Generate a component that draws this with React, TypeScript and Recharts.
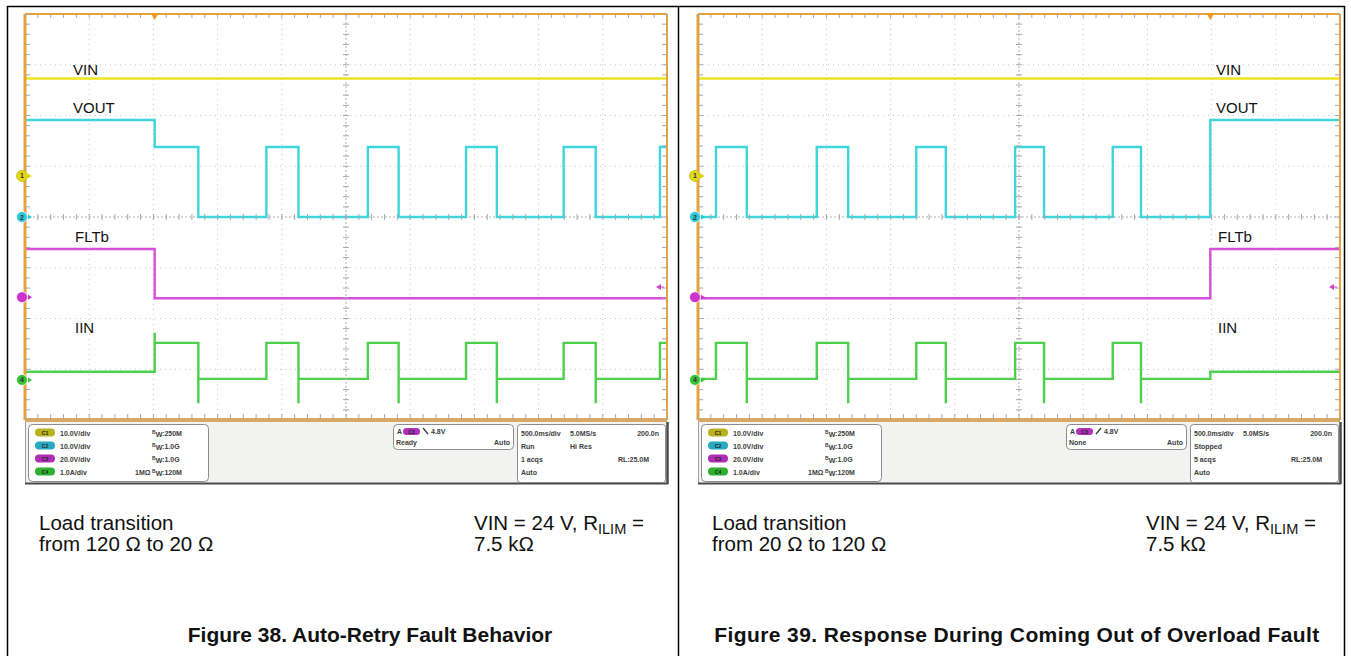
import React from 'react';
import { ComposedChart, Line, XAxis, YAxis, ReferenceLine, ReferenceDot, Scatter } from 'recharts';

const PLOT_W = 642;
const PLOT_H = 406;
const PAD = 12;
const PLOT_TOP = 14;

// scope graticule (divisions)
const gridX = [1, 2, 3, 4, 6, 7, 8, 9];
const gridY = [1, 2, 3, 5, 6, 7];
const minorX = Array.from({ length: 51 }, (_, i) => Math.round(i * 2) / 10);
const minorY = Array.from({ length: 41 }, (_, i) => Math.round(i * 2) / 10);

// channel ground reference levels (div from bottom)
const groundLevels = [4.81, 4.0, 2.42, 0.79];
const groundLabels = ['1', '2', '3', '4'];
const traceColors = ['#eee41e', '#3ed6dd', '#d64fd6', '#4dd14d'];
const markerColors = ['#e2d81a', '#2cc8d8', '#cc33cc', '#36c436'];
const trigLevel = 2.62;

// Figure 38 (load 120 ohm -> 20 ohm), time in divisions (500 ms/div)
const f38VinT = [0, 10];
const f38VinV = [6.73, 6.73];
const f38VoutT = [0, 2.02, 2.7, 3.76, 4.26, 5.34, 5.82, 6.87, 7.35, 8.39, 8.89, 9.89, 10];
const f38VoutV = [5.91, 5.38, 4.0, 5.38, 4.0, 5.38, 4.0, 5.38, 4.0, 5.38, 4.0, 5.38, 5.38];
const f38FltT = [0, 2.02, 10];
const f38FltV = [3.37, 2.4, 2.4];
const f38IinT = [0, 2.02, 2.02, 2.7, 2.7, 3.76, 4.26, 4.26, 5.34, 5.82, 5.82, 6.87, 7.35, 7.35, 8.39, 8.89, 8.89, 9.89, 10];
const f38IinV = [0.95, 1.72, 1.52, 0.33, 0.81, 1.52, 0.33, 0.81, 1.52, 0.33, 0.81, 1.52, 0.33, 0.81, 1.52, 0.33, 0.81, 1.52, 1.52];
const f38Trig = 2.02;

// Figure 39 (load 20 ohm -> 120 ohm)
const f39VinT = [0, 10];
const f39VinV = [6.73, 6.73];
const f39VoutT = [0, 0.28, 0.76, 1.85, 2.34, 3.4, 3.86, 4.94, 5.39, 6.46, 6.9, 7.98, 10];
const f39VoutV = [4.0, 5.38, 4.0, 5.38, 4.0, 5.38, 4.0, 5.38, 4.0, 5.38, 4.0, 5.91, 5.91];
const f39FltT = [0, 7.98, 10];
const f39FltV = [2.4, 3.37, 3.37];
const f39IinT = [0, 0.28, 0.76, 0.76, 1.85, 2.34, 2.34, 3.4, 3.86, 3.86, 4.94, 5.39, 5.39, 6.46, 6.9, 6.9, 7.98, 10];
const f39IinV = [0.81, 1.52, 0.33, 0.81, 1.52, 0.33, 0.81, 1.52, 0.33, 0.81, 1.52, 0.33, 0.81, 1.52, 0.33, 0.81, 0.95, 0.95];
const f39Trig = 7.98;

const traceNames = ['VIN', 'VOUT', 'FLTb', 'IIN'];

type Pt = { t: number; v: number };
const zip = (ts: number[], vs: number[]): Pt[] => ts.map((t, i) => ({ t, v: vs[i] }));

const centerH = minorX.map((t) => ({ t, v: 4 }));
const centerV = minorY.map((v) => ({ t: 5, v }));
const edgeBottom = minorX.map((t) => ({ t, v: 0 }));
const edgeTop = minorX.map((t) => ({ t, v: 8 }));
const edgeLeft = minorY.map((v) => ({ t: 0, v }));
const edgeRight = minorY.map((v) => ({ t: 10, v }));

const ORANGE = '#e6a23c';
const TICK = '#a8a8a8';

function Scope(props: { x0: number; series: Pt[][]; trig: number }) {
  const { x0, series, trig } = props;
  const grid = { stroke: '#c8c8c8', strokeDasharray: '1 4', strokeWidth: 1 };
  return (
    <div style={{ position: 'absolute', left: x0 - PAD, top: PLOT_TOP - PAD }}>
      <ComposedChart width={PLOT_W + 2 * PAD} height={PLOT_H + 2 * PAD} margin={{ top: PAD, right: PAD, bottom: PAD, left: PAD }}>
        <XAxis dataKey="t" type="number" domain={[0, 10]} hide allowDataOverflow />
        <YAxis dataKey="v" type="number" domain={[0, 8]} hide allowDataOverflow />
        {gridX.map((x) => (
          <ReferenceLine key={'gx' + x} x={x} {...grid} />
        ))}
        {gridY.map((y) => (
          <ReferenceLine key={'gy' + y} y={y} {...grid} />
        ))}
        <ReferenceLine x={5} stroke="#b0b0b0" strokeWidth={1} strokeDasharray="2 2" />
        <ReferenceLine y={4} stroke="#b0b0b0" strokeWidth={1} strokeDasharray="2 2" />
        <Scatter data={centerH} dataKey="v" isAnimationActive={false}
          shape={(p: any) => <line x1={p.cx} x2={p.cx} y1={p.cy - 3} y2={p.cy + 3} stroke={TICK} strokeWidth={1} />} />
        <Scatter data={centerV} dataKey="v" isAnimationActive={false}
          shape={(p: any) => <line x1={p.cx - 3} x2={p.cx + 3} y1={p.cy} y2={p.cy} stroke={TICK} strokeWidth={1} />} />
        <Scatter data={edgeBottom} dataKey="v" isAnimationActive={false}
          shape={(p: any) => <line x1={p.cx} x2={p.cx} y1={p.cy - 6} y2={p.cy} stroke={TICK} strokeWidth={1} />} />
        <Scatter data={edgeTop} dataKey="v" isAnimationActive={false}
          shape={(p: any) => <line x1={p.cx} x2={p.cx} y1={p.cy} y2={p.cy + 4} stroke={TICK} strokeWidth={1} />} />
        <Scatter data={edgeLeft} dataKey="v" isAnimationActive={false}
          shape={(p: any) => <line x1={p.cx} x2={p.cx + 5} y1={p.cy} y2={p.cy} stroke={TICK} strokeWidth={1} />} />
        <Scatter data={edgeRight} dataKey="v" isAnimationActive={false}
          shape={(p: any) => <line x1={p.cx - 5} x2={p.cx} y1={p.cy} y2={p.cy} stroke={TICK} strokeWidth={1} />} />
        {series.map((d, i) => (
          <Line key={'s' + i} data={d} dataKey="v" type="stepAfter" stroke={traceColors[i]} strokeWidth={2.4} dot={false} activeDot={false} isAnimationActive={false} />
        ))}
        <ReferenceLine x={0} stroke={ORANGE} strokeWidth={3} />
        <ReferenceLine x={10} stroke={ORANGE} strokeWidth={2} />
        <ReferenceLine y={8} stroke={ORANGE} strokeWidth={2} />
        <ReferenceLine y={0} stroke="#d9a862" strokeWidth={4} />
        {groundLevels.map((g, i) => (
          <ReferenceDot key={'gm' + i} x={0} y={g} r={6} ifOverflow="visible"
            shape={(p: any) => (
              <g>
                <circle cx={p.cx - 3} cy={p.cy} r={5.5} fill={markerColors[i]} stroke={i === 0 ? '#c9b800' : '#ffffff'} strokeWidth={0.8} />
                <text x={p.cx - 3} y={p.cy + 2.5} fontSize={7} fontFamily="Liberation Sans, Arial" fontWeight="bold" textAnchor="middle" fill="#333">{i === 2 ? '' : groundLabels[i]}</text>
                <polygon points={`${p.cx + 3},${p.cy - 2.5} ${p.cx + 7},${p.cy} ${p.cx + 3},${p.cy + 2.5}`} fill={markerColors[i]} />
              </g>
            )} />
        ))}
        <ReferenceDot x={trig} y={8} r={4} ifOverflow="visible"
          shape={(p: any) => <polygon points={`${p.cx - 4},${p.cy - 1} ${p.cx + 4},${p.cy - 1} ${p.cx},${p.cy + 6}`} fill="#f09a20" />} />
        <ReferenceDot x={10} y={trigLevel} r={4} ifOverflow="visible"
          shape={(p: any) => (
            <g>
              <polygon points={`${p.cx - 11},${p.cy} ${p.cx - 6},${p.cy - 3} ${p.cx - 6},${p.cy + 3}`} fill="#cc44cc" />
              <line x1={p.cx - 6} x2={p.cx - 3} y1={p.cy} y2={p.cy} stroke="#cc44cc" strokeWidth={1} />
            </g>
          )} />
      </ComposedChart>
    </div>
  );
}

const SB_FONT = "'Liberation Sans', Arial, sans-serif";
const badgeColors = ['#b9b21c', '#27a9bf', '#ad2db5', '#2eb02e'];
const chScale = ['10.0V/div', '10.0V/div', '20.0V/div', '1.0A/div'];
const chBw = ['250M', '1.0G', '1.0G', '120M'];

function StatusBar(props: { x0: number; trigState: string; slope: 'fall' | 'rise'; run: string; acqs: string; extra: string }) {
  const { x0, trigState, slope, run, acqs, extra } = props;
  const t = (x: number, y: number, s: string, anchor: 'start' | 'end' = 'start') => (
    <text x={x0 + x} y={y} fontSize={7} fontWeight="bold" fontFamily={SB_FONT} fill="#3c3c3c" textAnchor={anchor}>{s}</text>
  );
  const rows = [435.5, 448.5, 461.5, 474.5];
  return (
    <g>
      <rect x={x0} y={422} width={643} height={62} fill="#f2f2f0" />
      <line x1={x0 + 0.5} x2={x0 + 0.5} y1={422} y2={484} stroke="#a0a0a0" />
      <line x1={x0} x2={x0 + 643} y1={483.5} y2={483.5} stroke="#4a4a4a" strokeWidth={2} />
      <line x1={x0 + 642.5} x2={x0 + 642.5} y1={422} y2={484} stroke="#4a4a4a" strokeWidth={2.5} />
      <rect x={x0 + 3.5} y={424.5} width={180} height={57} rx={4} fill="#fff" stroke="#8c8c8c" />
      {rows.map((y, i) => (
        <g key={'r' + i}>
          <rect x={x0 + 10} y={y - 7} width={20} height={8} rx={4} fill={badgeColors[i]} />
          <text x={x0 + 20} y={y - 1} fontSize={5} fontWeight="bold" fontFamily={SB_FONT} fill="#222" textAnchor="middle">{'C' + (i + 1)}</text>
          {t(35, y, chScale[i])}
          {i === 3 ? t(110, y, '1MΩ') : null}
          <text x={x0 + 127} y={y} fontSize={7} fontWeight="bold" fontFamily={SB_FONT} fill="#3c3c3c">
            <tspan fontSize={5} dy={-2}>B</tspan>
            <tspan dy={3}>W</tspan>
            <tspan dy={-1}>{':' + chBw[i]}</tspan>
          </text>
        </g>
      ))}
      <rect x={x0 + 368.5} y={424.5} width={120} height={25} rx={4} fill="#fff" stroke="#8c8c8c" />
      {t(372, 434, 'A')}
      <rect x={x0 + 378} y={428} width={17} height={7} rx={3.5} fill="#b02fb8" />
      <text x={x0 + 386.5} y={433.5} fontSize={5} fontWeight="bold" fontFamily={SB_FONT} fill="#222" textAnchor="middle">C3</text>
      <path d={slope === 'fall' ? `M${x0 + 398},${428} L${x0 + 403},${434}` : `M${x0 + 398},${434} L${x0 + 403},${428}`} stroke="#333" strokeWidth={1.2} fill="none" />
      {t(406, 434, '4.8V')}
      {t(371, 445, trigState)}
      {t(485, 445, 'Auto', 'end')}
      <rect x={x0 + 492.5} y={424.5} width={148} height={58} rx={3} fill="#fff" stroke="#8c8c8c" />
      {t(496, 435.5, '500.0ms/div')}
      {t(545, 435.5, '5.0MS/s')}
      {t(634, 435.5, '200.0n', 'end')}
      {t(496, 448.5, run)}
      {extra ? t(545, 448.5, extra) : null}
      {t(496, 461.5, acqs)}
      {t(624, 461.5, 'RL:25.0M', 'end')}
      {t(496, 474.5, 'Auto')}
    </g>
  );
}

const CAP_FONT = "'Liberation Sans', Arial, Helvetica, sans-serif";

function Captions(props: { textX: number; vinX: number; line2: string; title: string; titleX: number; titleSpacing: number }) {
  const { textX, vinX, line2, title, titleX, titleSpacing } = props;
  return (
    <g fontFamily={CAP_FONT} fill="#111">
      <text x={textX} y={530} fontSize={20.5}>Load transition</text>
      <text x={textX} y={551} fontSize={20.5}>{line2}</text>
      <text x={vinX} y={530} fontSize={20.5}>
        VIN = 24 V, R<tspan fontSize={14.5} dy={4}>ILIM</tspan><tspan dy={-4}> =</tspan>
      </text>
      <text x={vinX} y={551} fontSize={20.5}>7.5 kΩ</text>
      <text x={titleX} y={642} fontSize={21} fontWeight="bold" textAnchor="middle" letterSpacing={titleSpacing}>{title}</text>
    </g>
  );
}

function TraceLabels(props: { x0: number; dx: number }) {
  const { x0, dx } = props;
  const ys = [75, 113, 242, 333];
  return (
    <g fontFamily={CAP_FONT} fontSize={15} fill="#111">
      {traceNames.map((n, i) => (
        <text key={n} x={x0 + dx + (i >= 2 ? 2 : 0)} y={ys[i]}>{n}</text>
      ))}
    </g>
  );
}

export default function App() {
  const L = 25;
  const R = 698;
  const f38 = [zip(f38VinT, f38VinV), zip(f38VoutT, f38VoutV), zip(f38FltT, f38FltV), zip(f38IinT, f38IinV)];
  const f39 = [zip(f39VinT, f39VinV), zip(f39VoutT, f39VoutV), zip(f39FltT, f39FltV), zip(f39IinT, f39IinV)];
  return (
    <div style={{ position: 'absolute', left: 0, top: 0, width: 1351, height: 656, background: '#fff', overflow: 'hidden' }}>
      <Scope x0={L} series={f38} trig={f38Trig} />
      <Scope x0={R} series={f39} trig={f39Trig} />
      <svg width={1351} height={656} style={{ position: 'absolute', left: 0, top: 0, pointerEvents: 'none' }}>
        <line x1={7} x2={1345} y1={6.5} y2={6.5} stroke="#000" strokeWidth={1.5} />
        <line x1={7.5} x2={7.5} y1={6} y2={656} stroke="#000" strokeWidth={1.5} />
        <line x1={678.5} x2={678.5} y1={6} y2={656} stroke="#000" strokeWidth={1.5} />
        <line x1={1344.5} x2={1344.5} y1={6} y2={656} stroke="#000" strokeWidth={1.5} />
        <StatusBar x0={L} trigState="Ready" slope="fall" run="Run" acqs="1 acqs" extra="Hi Res" />
        <StatusBar x0={R} trigState="None" slope="rise" run="Stopped" acqs="5 acqs" extra="" />
        <TraceLabels x0={L} dx={48} />
        <TraceLabels x0={R} dx={518} />
        <Captions textX={39} vinX={474} line2="from 120 Ω to 20 Ω" title="Figure 38. Auto-Retry Fault Behavior" titleX={370} titleSpacing={0} />
        <Captions textX={712} vinX={1146} line2="from 20 Ω to 120 Ω" title="Figure 39. Response During Coming Out of Overload Fault" titleX={1017} titleSpacing={0.4} />
      </svg>
    </div>
  );
}
